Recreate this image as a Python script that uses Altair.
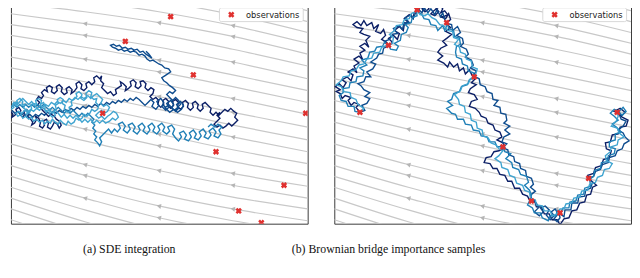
import math
import altair as alt
import pandas as pd

# ---------------- data ----------------
captions = ["(a) SDE integration", "(b) Brownian bridge importance samples"]
legend_label = ["observations"]
samples = ["s1", "s2", "s3", "s4"]
palette = ["#0b1f66", "#0e4c8e", "#1f7fb6", "#3fa4d0"]

obs_a_x = [149, 172, 126, 195, 103, 309, 218, 287, 241, 264]
obs_a_y = [0, 14, 39, 73, 112, 112, 151, 185, 211, 223]
obs_b_x = [364, 393, 422, 452, 480, 509, 538, 567, 596, 625]
obs_b_y = [111, 43, 7, 20, 75, 146, 201, 213, 178, 111]

stations_a = [10, 85, 160, 235, 311]
stations_b = [338, 413, 488, 563, 639]
stream_y = [
    [-55, -46, -35, -21, -3], [-44, -35, -24, -10, 8], [-33, -24, -13, 1, 19],
    [-22, -13, -2, 12, 30], [-11, -2, 9, 23, 41], [0, 9, 20, 34, 52],
    [11, 21, 32, 47, 64], [22, 33, 45, 60, 77], [33, 45, 58, 73, 89],
    [44, 57, 70, 85, 101], [55, 68, 82, 97, 113], [66, 80, 95, 111, 126],
    [77, 92, 108, 124, 139], [88, 104, 120, 136, 151], [99, 116, 133, 149, 163],
    [110, 128, 145, 161, 175], [121, 140, 157, 173, 186], [132, 152, 170, 185, 198],
    [143, 164, 182, 197, 209], [154, 175, 194, 209, 221], [165, 187, 206, 221, 232],
    [176, 198, 218, 232, 243], [187, 210, 230, 244, 255], [198, 222, 242, 256, 266],
    [209, 233, 253, 267, 277], [220, 244, 264, 278, 288],
]

path_a1 = [(10,110),(12,113),(11,116),(14,114),(16,111),(15,108),(18,106),(20,109),(19,113),(22,116),(24,113),(23,110),(26,108),(28,111),(27,115),(30,118),(32,121),(31,124),(34,122),(36,118),(35,115),(38,117),(40,121),(39,125),(42,127),(44,124),(43,120),(46,118),(48,122),(47,126),(50,128),(52,125),(54,121),(57,123),(59,127),(61,124),(59,120),(56,118),(54,115),(51,113),(48,115),(45,112),(42,109),(40,106),(37,104),(39,101),(36,98),(38,95),(41,97),(43,94),(41,91),(44,88),(47,90),(46,86),(49,84),(52,86),(51,90),(54,92),(57,89),(56,85),(59,83),(62,86),(61,90),(64,93),(67,91),(66,87),(69,85),(72,88),(71,92),(74,90),(77,86),(76,82),(79,80),(82,83),(81,87),(84,89),(87,86),(86,82),(89,80),(92,83),(95,80),(94,76),(97,74),(100,77),(102,74),(101,79),(104,82),(102,86),(105,89),(108,92),(111,90),(114,94),(117,92),(116,88),(119,86),(122,84),(121,80),(124,82),(127,85),(126,89),(129,87),(132,84),(131,80),(134,78),(137,81),(136,85),(139,87),(142,84),(141,80),(144,79),(147,82),(146,86),(149,89),(152,86),(155,88),(154,92),(151,95),(154,98),(157,96),(160,99),(159,103),(162,106),(165,103),(164,99),(167,97),(170,100),(169,104),(172,107),(175,104),(174,100),(177,98),(180,101),(179,105),(182,108),(185,105),(184,101),(187,99),(190,102),(189,106),(192,109),(195,106),(194,102),(197,100),(200,103),(199,107),(202,110),(205,107),(204,103),(207,101),(210,104),(213,107),(212,111),(215,114),(218,111),(221,114),(224,111),(227,108),(230,110),(233,107),(236,110),(239,112),(237,116),(240,119),(237,122),(234,125),(231,122),(228,125),(225,127),(222,124),(219,126),(216,123),(219,120),(222,117),(219,114),(222,111)]
path_a2 = [(11,109),(14,112),(17,110),(20,114),(23,112),(26,116),(29,113),(32,116),(35,113),(38,115),(41,112),(44,114),(47,111),(50,113),(53,110),(56,112),(59,109),(62,111),(65,108),(68,110),(71,107),(74,109),(77,106),(80,108),(83,105),(86,107),(89,104),(92,106),(95,103),(98,105),(101,102),(104,104),(107,101),(110,103),(113,100),(116,102),(119,99),(122,101),(125,98),(128,100),(131,97),(134,99),(137,96),(140,98),(143,101),(146,104),(149,101),(152,98),(155,101),(153,105),(157,108),(160,104),(158,100),(162,97),(165,101),(163,105),(167,109),(170,106),(168,102),(172,99),(175,103),(173,107),(177,110),(180,107),(178,103),(182,100),(185,104),(183,108),(179,111),(175,108),(171,111),(167,107),(164,103),(167,106),(170,103),(173,106),(176,109),(179,106),(182,103),(180,99),(177,96),(174,99),(171,96),(168,93),(171,90),(174,92),(177,89),(174,86),(171,84),(168,81),(165,79),(163,76),(166,74),(169,72),(172,70),(170,67),(166,66),(163,63),(160,62),(157,60),(154,58),(151,59),(148,57),(146,54),(143,52),(140,53),(137,50),(134,49),(131,50),(128,48),(125,49),(122,47),(119,48),(116,46),(113,45),(111,43),(114,42),(117,44),(120,43),(123,46),(126,45),(129,47),(132,46),(135,48),(138,47),(141,50),(144,49),(147,52),(150,54),(153,56),(150,52),(147,49)]
path_a3 = [(10,106),(13,103),(16,106),(19,103),(22,106),(25,103),(28,106),(31,103),(34,106),(37,103),(40,106),(43,103),(46,106),(49,109),(52,106),(55,109),(58,106),(61,109),(64,112),(67,109),(70,112),(73,109),(76,112),(79,115),(82,112),(85,115),(88,112),(91,115),(94,118),(92,121),(95,124),(93,127),(96,130),(94,133),(97,136),(95,139),(98,142),(100,145),(102,141),(100,137),(103,134),(106,131),(109,128),(112,132),(115,128),(118,131),(121,127),(119,123),(123,121),(126,125),(124,129),(128,132),(131,128),(129,124),(133,122),(136,126),(134,130),(138,133),(141,129),(139,125),(143,122),(146,126),(144,130),(148,133),(151,129),(149,125),(153,122),(156,126),(154,130),(158,133),(161,129),(159,125),(163,122),(166,126),(164,130),(168,133),(171,130),(169,126),(173,124),(176,128),(174,133),(177,137),(180,140),(183,136),(181,132),(185,130),(188,134),(186,138),(190,140),(193,136),(191,132),(195,129),(198,133),(196,137),(200,139),(203,135),(201,131),(205,128),(208,132),(206,136),(210,138),(213,134),(211,130),(215,127),(218,131),(216,135),(220,137),(223,133),(221,129),(224,126),(220,123),(217,126),(213,123),(210,126)]
path_a4 = [(10,108),(13,106),(12,102),(15,101),(17,104),(16,99),(19,97),(22,100),(21,104),(24,103),(23,107),(27,109),(26,113),(29,111),(31,107),(30,104),(33,102),(36,103),(35,99),(38,97),(41,99),(40,103),(43,101),(45,105),(44,108),(47,110),(50,109),(49,113),(52,116),(55,114),(53,110),(56,108),(55,104),(58,102),(57,98),(60,96),(63,98),(62,102),(65,104),(64,108),(67,111),(70,110),(69,106),(72,104),(71,100),(74,98),(77,95),(76,92),(79,90),(82,93),(81,97),(84,99),(87,96),(86,92),(89,89),(92,91),(91,95),(94,98),(97,97),(96,101),(99,104),(98,108),(95,110),(92,108),(90,112),(87,115),(84,113),(82,117),(79,119),(76,117),(74,121),(71,123),(68,120),(66,124),(63,122),(60,119),(58,123),(55,121),(52,118),(50,122),(47,120),(44,123),(42,119),(39,121),(36,118),(33,120),(31,116),(28,118),(25,115),(22,117),(20,113),(17,115),(15,112),(18,110),(21,112),(24,109),(27,111),(30,108),(33,110),(36,107),(39,109),(42,106),(45,103),(48,105),(51,101),(54,103),(57,100),(60,102),(63,99),(66,101),(69,97),(72,99),(75,96),(78,98),(81,95),(84,97),(88,94),(91,97),(94,94),(97,92),(100,95),(103,98),(101,102),(104,105),(107,103),(110,106),(108,110),(105,112),(102,109),(99,111),(96,114),(99,117),(102,115),(105,118),(108,115),(111,113),(114,110),(117,112),(119,116),(116,119),(113,117),(110,120),(106,122),(103,119),(100,122),(97,119),(94,122),(91,118),(88,121),(85,118),(82,121),(79,117),(76,114),(73,117),(70,114),(67,117),(64,113),(61,116),(58,112),(55,109),(52,112),(49,108),(46,111),(43,107),(40,104),(37,107),(34,104),(31,100),(28,103),(25,100),(22,97),(19,100),(16,104),(13,101),(11,105)]

path_b1 = [(364,111),(360,106),(363,103),(358,101),(355,104),(352,99),(355,96),(349,94),(346,97),(344,92),(340,90),(344,88),(339,85),(343,82),(347,86),(350,81),(346,78),(351,75),(355,79),(357,73),(352,70),(357,67),(361,71),(358,64),(363,61),(358,57),(363,54),(367,58),(364,51),(369,48),(364,44),(369,41),(373,45),(370,38),(374,34),(368,32),(364,30),(367,26),(361,25),(357,22),(361,19),(365,23),(368,18),(371,23),(376,20),(378,26),(383,22),(380,29),(385,31),(388,27),(390,33),(386,37),(391,40),(393,44),(397,40),(393,36),(398,33),(402,37),(404,31),(399,28),(404,24),(408,28),(409,22),(413,20),(409,16),(414,12),(418,16),(419,10),(423,8),(426,3),(428,8),(432,2),(434,6),(430,9),(427,5),(431,1),(436,4),(440,1),(443,5),(439,8),(436,11),(440,13),(444,9),(441,5),(445,2),(448,6),(446,10),(450,8),(453,12),(449,14),(445,14),(451,16),(454,11),(456,17),(451,21),(456,25),(451,29),(457,32),(452,36),(448,39),(452,43),(446,46),(443,50),(448,54),(443,58),(449,61),(453,65),(455,60),(459,65),(463,62),(465,69),(469,66),(471,72),(475,68),(478,74),(481,77),(477,81),(482,83),(476,87),(474,91),(480,93),(483,98),(477,100),(475,105),(481,107),(485,111),(487,115),(492,117),(494,122),(499,124),(501,129),(506,131),(508,136),(503,139),(509,142),(511,147),(505,150),(500,151),(497,156),(492,157),(490,162),(496,163),(499,168),(503,168),(506,174),(511,175),(514,181),(518,181),(521,188),(526,188),(529,194),(534,196),(536,200),(541,200),(543,207),(548,207),(551,214),(556,214),(559,220),(564,220),(567,225),(571,219),(576,218),(579,211),(584,210),(587,203),(592,202),(594,195),(598,194),(600,187),(604,185),(598,180),(595,175),(601,173),(603,167),(609,165),(611,159),(617,157),(619,150),(614,148),(613,142),(618,141),(620,134),(626,133),(628,126),(634,125),(636,119),(630,116),(627,112),(622,110),(628,107),(633,111),(628,116)]
path_b2 = [(364,111),(369,109),(366,104),(371,102),(374,97),(369,95),(374,91),(368,88),(365,84),(362,82),(368,80),(370,75),(375,75),(371,70),(377,67),(380,62),(375,60),(381,56),(383,52),(387,51),(388,46),(393,44),(389,39),(394,37),(397,32),(402,31),(398,26),(404,23),(407,27),(409,20),(414,20),(410,15),(416,12),(418,16),(421,9),(424,7),(427,10),(429,5),(433,10),(436,6),(440,12),(442,7),(446,14),(448,10),(450,17),(453,21),(457,22),(458,28),(463,24),(466,30),(462,33),(468,36),(469,41),(466,44),(472,47),(474,52),(471,55),(477,58),(479,63),(476,66),(482,69),(479,74),(485,77),(486,83),(491,85),(493,90),(498,92),(499,98),(504,99),(500,104),(506,106),(507,112),(512,113),(513,119),(510,122),(516,125),(511,129),(516,133),(510,136),(508,141),(513,143),(509,147),(514,149),(515,154),(520,156),(521,161),(526,163),(527,168),(532,170),(533,176),(538,178),(540,184),(537,187),(542,191),(537,195),(539,201),(543,203),(545,208),(541,212),(546,216),(550,212),(547,208),(552,206),(556,210),(553,215),(557,220),(561,216),(558,212),(562,209),(565,214),(561,219),(564,222),(567,218),(566,213),(571,217),(572,210),(578,210),(579,203),(585,203),(586,197),(592,196),(593,190),(598,188),(600,182),(595,178),(601,176),(603,171),(608,169),(610,164),(616,162),(617,157),(623,155),(625,150),(630,148),(632,143),(637,140),(633,136),(631,132),(626,129),(631,125),(634,120),(629,118),(627,113),(624,111)]
path_b3 = [(364,111),(359,110),(358,105),(352,105),(350,100),(345,99),(343,94),(347,91),(347,87),(353,86),(354,81),(360,80),(361,75),(367,74),(368,69),(364,66),(371,63),(366,58),(372,56),(374,50),(379,49),(381,45),(387,44),(389,40),(394,44),(395,47),(401,48),(403,44),(399,41),(405,38),(406,32),(411,30),(413,25),(410,22),(416,20),(417,15),(422,13),(421,7),(427,12),(429,16),(434,17),(436,22),(441,23),(443,28),(448,23),(450,28),(453,21),(454,26),(459,28),(460,34),(465,36),(466,42),(462,44),(461,50),(462,55),(467,57),(468,62),(473,64),(474,69),(479,71),(480,76),(475,78),(473,83),(467,85),(465,90),(459,92),(457,98),(453,100),(458,104),(452,107),(457,112),(461,113),(463,118),(469,118),(471,123),(477,124),(479,129),(485,130),(487,135),(493,136),(495,141),(501,141),(503,146),(509,146),(511,151),(517,153),(512,158),(518,162),(519,167),(525,169),(527,174),(533,176),(535,182),(531,185),(536,190),(538,195),(536,201),(534,205),(539,208),(541,213),(547,213),(549,218),(555,221),(557,216),(563,216),(564,211),(568,213),(570,208),(576,208),(577,202),(583,201),(585,195),(591,194),(592,188),(598,186),(597,179),(601,176),(602,170),(608,168),(609,162),(615,161),(616,155),(622,153),(623,148),(617,146),(617,141),(623,139),(623,133),(629,131),(624,126),(620,123),(626,119),(622,115),(618,112),(622,108),(627,110),(631,106),(634,110),(630,114),(627,111),(625,111)]
path_b4 = [(364,111),(368,107),(362,103),(360,98),(355,96),(354,91),(348,90),(345,85),(340,83),(345,79),(347,75),(353,74),(355,69),(360,68),(363,63),(368,62),(371,57),(376,56),(378,51),(384,50),(386,45),(392,43),(397,41),(398,35),(394,32),(399,28),(401,23),(407,22),(409,17),(414,16),(416,11),(422,8),(425,12),(430,13),(433,11),(437,15),(441,17),(445,22),(449,23),(453,28),(458,29),(459,35),(464,37),(460,42),(465,45),(466,50),(471,52),(472,57),(477,59),(478,65),(483,67),(481,74),(476,77),(474,82),(468,84),(466,89),(460,93),(464,98),(465,103),(470,105),(471,111),(476,113),(477,119),(482,121),(483,127),(488,129),(489,135),(494,137),(497,142),(502,144),(505,148),(509,150),(505,155),(501,158),(507,162),(508,167),(514,169),(516,175),(521,177),(523,183),(529,185),(531,190),(536,192),(537,198),(542,200),(543,205),(549,206),(551,211),(557,211),(559,216),(564,214),(567,209),(571,209),(573,204),(579,203),(581,198),(587,197),(589,191),(595,190),(597,184),(603,182),(605,177),(610,175),(612,169),(617,168),(620,163),(614,160),(613,155),(618,151),(619,146),(625,144),(626,139),(632,136),(627,132),(625,127),(619,125),(624,120),(626,115),(625,111)]

paths_a = [path_a1, path_a2, path_a3, path_a4]
paths_b = [path_b1, path_b2, path_b3, path_b4]

RED = "#e0312f"
GRAY = "#c8c8c8"
W, H = 301, 224


def panel(paths, obs_x, obs_y, stations, caption, cap_x):
    xs = alt.Scale(domain=[stations[0], stations[-1]], nice=False, zero=False)
    ys = alt.Scale(domain=[0, 224], nice=False, zero=False, reverse=True)

    srows, arows = [], []
    for i, yl in enumerate(stream_y):
        for j, (x, y) in enumerate(zip(stations, yl)):
            srows.append({"line": i, "o": j, "x": x, "y": y})
        ks = {1 + (2 * i) % 3}
        if i % 2 == 1:
            ks.add(1 + (2 * i + 1) % 3)
        for k in ks:
            ang = math.degrees(math.atan2(yl[k + 1] - yl[k - 1], stations[k + 1] - stations[k - 1]))
            arows.append({"x": stations[k], "y": yl[k], "angle": ang})
    sdf = pd.DataFrame(srows)
    adf = pd.DataFrame(arows)

    prow = []
    for s, p in zip(samples, paths):
        for j, (x, y) in enumerate(p):
            prow.append({"sample": s, "o": j, "x": x, "y": y})
    pdf = pd.DataFrame(prow)
    odf = pd.DataFrame({"x": obs_x, "y": obs_y})

    X = lambda: alt.X("x:Q", scale=xs, axis=None)
    Y = lambda: alt.Y("y:Q", scale=ys, axis=None)

    stream = alt.Chart(sdf).mark_line(interpolate="monotone", clip=True, color=GRAY, strokeWidth=1.2).encode(
        x=X(), y=Y(), detail="line:N", order="o:Q")
    arrows = alt.Chart(adf).mark_point(shape="triangle-left", filled=True, size=26, color="#b5b5b5",
                                       opacity=1, clip=True).encode(
        x=X(), y=Y(), angle=alt.Angle("angle:Q", scale=None))
    walks = alt.Chart(pdf).mark_line(clip=True, strokeWidth=1.4, strokeJoin="miter").encode(
        x=X(), y=Y(), detail="sample:N", order="o:Q",
        color=alt.Color("sample:N", scale=alt.Scale(domain=samples, range=palette), legend=None))
    obs = alt.Chart(odf).mark_point(shape="cross", angle=45, filled=True, size=42, color=RED,
                                    opacity=1, clip=True).encode(x=X(), y=Y())

    one = pd.DataFrame({"label": legend_label})
    lbox = alt.Chart(one).mark_rect(fill="white", stroke="#cfcfcf", strokeWidth=0.8, cornerRadius=2).encode(
        x=alt.value(211.5), x2=alt.value(296.5), y=alt.value(5), y2=alt.value(19))
    lsym = alt.Chart(one).mark_point(shape="cross", angle=45, filled=True, size=42, color=RED, opacity=1).encode(
        x=alt.value(223.5), y=alt.value(12))
    ltxt = alt.Chart(one).mark_text(align="left", baseline="middle", font="DejaVu Sans", fontSize=8.4,
                                    color="#222").encode(x=alt.value(238.5), y=alt.value(12.5), text="label:N")
    cap = alt.Chart(pd.DataFrame({"t": [caption]})).mark_text(
        align="center", baseline="middle", font="Liberation Serif", fontSize=12, color="#111").encode(
        x=alt.value(cap_x), y=alt.value(250), text="t:N")

    return alt.layer(stream, arrows, walks, obs, lbox, lsym, ltxt, cap).properties(width=W, height=H)


left = panel(paths_a, obs_a_x, obs_a_y, stations_a, captions[0], 120)
right = panel(paths_b, obs_b_x, obs_b_y, stations_b, captions[1], 55)

chart = alt.hconcat(left, right, spacing=27, bounds="flush").resolve_scale(
    x="independent", y="independent", color="independent"
).properties(padding={"left": 2, "top": -8, "right": 0, "bottom": 0}).configure_view(
    stroke="#3a3a3a", strokeWidth=1)

chart.save("out.html", embed_options={"renderer": "svg", "actions": False})
